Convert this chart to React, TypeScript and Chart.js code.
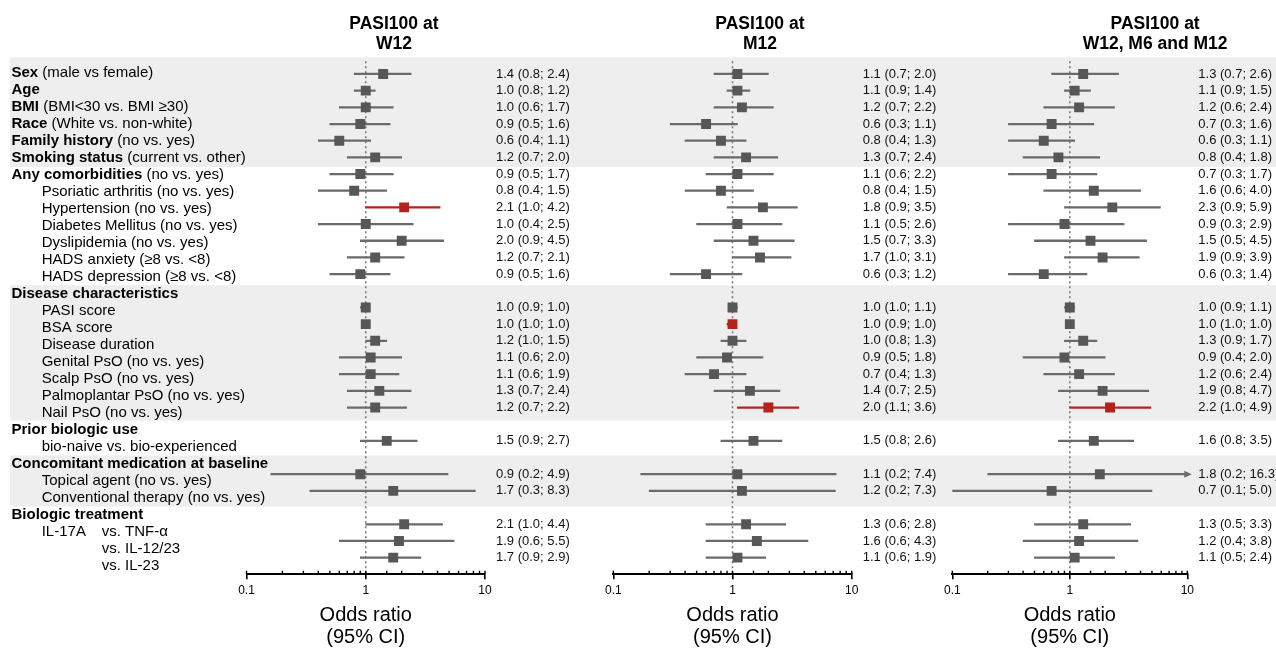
import React, { useEffect, useRef } from 'react';
import { Chart, registerables } from 'chart.js';

Chart.register(...registerables);

// ---------------- data ----------------
const rowHeads = [
  'Sex', 'Age', 'BMI', 'Race', 'Family history', 'Smoking status', 'Any comorbidities',
  '', '', '', '', '', '',
  'Disease characteristics', '', '', '', '', '', '', '',
  'Prior biologic use', '',
  'Concomitant medication at baseline', '', '',
  'Biologic treatment', '', '', '',
];
const rowTexts = [
  ' (male vs female)', '', ' (BMI<30 vs. BMI \u226530)', ' (White vs. non-white)', ' (no vs. yes)', ' (current vs. other)', ' (no vs. yes)',
  'Psoriatic arthritis (no vs. yes)', 'Hypertension (no vs. yes)', 'Diabetes Mellitus (no vs. yes)', 'Dyslipidemia (no vs. yes)',
  'HADS anxiety (\u22658 vs. <8)', 'HADS depression (\u22658 vs. <8)',
  '', 'PASI score', 'BSA score', 'Disease duration', 'Genital PsO (no vs. yes)', 'Scalp PsO (no vs. yes)',
  'Palmoplantar PsO (no vs. yes)', 'Nail PsO (no vs. yes)',
  '', 'bio-naive vs. bio-experienced',
  '', 'Topical agent (no vs. yes)', 'Conventional therapy (no vs. yes)',
  '', 'IL-17A\tvs. TNF-\u03b1', '\tvs. IL-12/23', '\tvs. IL-23',
];

const w12Est = [1.4, 1.0, 1.0, 0.9, 0.6, 1.2, 0.9, 0.8, 2.1, 1.0, 2.0, 1.2, 0.9, null, 1.0, 1.0, 1.2, 1.1, 1.1, 1.3, 1.2, null, 1.5, null, 0.9, 1.7, null, 2.1, 1.9, 1.7];
const w12Lo = [0.8, 0.8, 0.6, 0.5, 0.4, 0.7, 0.5, 0.4, 1.0, 0.4, 0.9, 0.7, 0.5, null, 0.9, 1.0, 1.0, 0.6, 0.6, 0.7, 0.7, null, 0.9, null, 0.16, 0.34, null, 1.0, 0.6, 0.9];
const w12Hi = [2.4, 1.2, 1.7, 1.6, 1.1, 2.0, 1.7, 1.5, 4.2, 2.5, 4.5, 2.1, 1.6, null, 1.0, 1.0, 1.5, 2.0, 1.9, 2.4, 2.2, null, 2.7, null, 4.9, 8.3, null, 4.4, 5.5, 2.9];
const w12Red = [8];

const m12Est = [1.1, 1.1, 1.2, 0.6, 0.8, 1.3, 1.1, 0.8, 1.8, 1.1, 1.5, 1.7, 0.6, null, 1.0, 1.0, 1.0, 0.9, 0.7, 1.4, 2.0, null, 1.5, null, 1.1, 1.2, null, 1.3, 1.6, 1.1];
const m12Lo = [0.7, 0.9, 0.7, 0.3, 0.4, 0.7, 0.6, 0.4, 0.9, 0.5, 0.7, 1.0, 0.3, null, 1.0, 0.9, 0.8, 0.5, 0.4, 0.7, 1.1, null, 0.8, null, 0.17, 0.2, null, 0.6, 0.6, 0.6];
const m12Hi = [2.0, 1.4, 2.2, 1.1, 1.3, 2.4, 2.2, 1.5, 3.5, 2.6, 3.3, 3.1, 1.2, null, 1.1, 1.0, 1.3, 1.8, 1.3, 2.5, 3.6, null, 2.6, null, 7.4, 7.3, null, 2.8, 4.3, 1.9];
const m12Red = [15, 20];

const allEst = [1.3, 1.1, 1.2, 0.7, 0.6, 0.8, 0.7, 1.6, 2.3, 0.9, 1.5, 1.9, 0.6, null, 1.0, 1.0, 1.3, 0.9, 1.2, 1.9, 2.2, null, 1.6, null, 1.8, 0.7, null, 1.3, 1.2, 1.1];
const allLo = [0.7, 0.9, 0.6, 0.3, 0.3, 0.4, 0.3, 0.6, 0.9, 0.3, 0.5, 0.9, 0.3, null, 0.9, 1.0, 0.9, 0.4, 0.6, 0.8, 1.0, null, 0.8, null, 0.2, 0.1, null, 0.5, 0.4, 0.5];
const allHi = [2.6, 1.5, 2.4, 1.6, 1.1, 1.8, 1.7, 4.0, 5.9, 2.9, 4.5, 3.9, 1.4, null, 1.1, 1.0, 1.7, 2.0, 2.4, 4.7, 4.9, null, 3.5, null, 16.3, 5.0, null, 3.3, 3.8, 2.4];
const allRed = [20];

const tickLabels = ['0.1', '1', '10'];
const axisTitle = ['Odds ratio', '(95% CI)'];
const axisMin = 0.1;
const axisMax = 10;

// ---------------- styling ----------------
const FONT = "'Liberation Sans', Arial, Helvetica, sans-serif";
const BAND = '#eeeeee';
const MARK = '#575757';
const CI = '#6a6a6a';
const RED = '#b3231c';
// grey bands, expressed in label-row units
const bandRows: [number, number][] = [[-1.2, 5.55], [12.5, 20.45], [22.5, 25.5]];
const labelValue = (j: number) => -0.089 + 1.0206 * j;

type Arr = (number | null)[];
interface PanelDef {
  title: string[];
  est: Arr; lo: Arr; hi: Arr; red: number[];
  left: number; width: number; padLeft: number; padRight: number;
  titleFrac: number; withLabels: boolean; bandStart: number;
}

const panels: PanelDef[] = [
  { title: ['PASI100 at', 'W12'], est: w12Est, lo: w12Lo, hi: w12Hi, red: w12Red, left: 0, width: 600, padLeft: 246.5, padRight: 115, titleFrac: 0.618, withLabels: true, bandStart: 10 },
  { title: ['PASI100 at', 'M12'], est: m12Est, lo: m12Lo, hi: m12Hi, red: m12Red, left: 600, width: 340, padLeft: 13.3, padRight: 88.3, titleFrac: 0.615, withLabels: false, bandStart: 0 },
  { title: ['PASI100 at', 'W12, M6 and M12'], est: allEst, lo: allLo, hi: allHi, red: allRed, left: 940, width: 336, padLeft: 9.3, padRight: 88.7, titleFrac: 0.863, withLabels: false, bandStart: 0 },
];

function isMajor(v: number) {
  const l = Math.log10(v);
  return Math.abs(l - Math.round(l)) < 1e-6;
}
const fmt = (n: number) => n.toFixed(1);

function makePlugin(p: PanelDef) {
  return {
    id: 'forestDecor',
    beforeDraw(chart: any) {
      const { ctx, chartArea, scales } = chart;
      const y = scales.y;
      ctx.save();
      ctx.fillStyle = BAND;
      for (const [a, b] of bandRows) {
        const ya = Math.max(chartArea.top, y.getPixelForValue(labelValue(a)));
        const yb = y.getPixelForValue(labelValue(b));
        ctx.fillRect(p.bandStart, ya, chart.width - p.bandStart, yb - ya);
      }
      ctx.restore();
    },
    beforeDatasetsDraw(chart: any) {
      const { ctx, chartArea, scales } = chart;
      const x1 = scales.x.getPixelForValue(1);
      ctx.save();
      ctx.strokeStyle = '#7a7a7a';
      ctx.lineWidth = 1.6;
      ctx.setLineDash([2, 3]);
      ctx.beginPath();
      ctx.moveTo(x1, chartArea.top + 4);
      ctx.lineTo(x1, chartArea.bottom);
      ctx.stroke();
      ctx.restore();
    },
    afterDatasetsDraw(chart: any) {
      const { ctx, scales } = chart;
      const x = scales.x, y = scales.y;
      ctx.save();
      p.hi.forEach((h, i) => {
        if (h == null || h <= x.max) return;
        const yy = y.getPixelForValue(i);
        const xe = x.getPixelForValue(x.max);
        ctx.fillStyle = p.red.includes(i) ? RED : CI;
        ctx.beginPath();
        ctx.moveTo(xe - 3, yy - 3.5);
        ctx.lineTo(xe + 4.5, yy);
        ctx.lineTo(xe - 3, yy + 3.5);
        ctx.closePath();
        ctx.fill();
      });
      ctx.restore();
    },
    afterDraw(chart: any) {
      const { ctx, chartArea, scales } = chart;
      const x = scales.x, y = scales.y;
      ctx.save();
      // small upward tick marks
      ctx.strokeStyle = '#000';
      ctx.lineWidth = 1.4;
      ctx.beginPath();
      x.ticks.forEach((t: any) => {
        const px = x.getPixelForValue(t.value);
        ctx.moveTo(px, chartArea.bottom - 3.5);
        ctx.lineTo(px, chartArea.bottom);
      });
      ctx.stroke();

      // estimate (CI) texts
      ctx.fillStyle = '#111';
      ctx.textAlign = 'left';
      ctx.textBaseline = 'middle';
      ctx.font = `13px ${FONT}`;
      p.est.forEach((e, i) => {
        if (e == null) return;
        const s = `${fmt(e)} (${fmt(p.lo[i] as number)}; ${fmt(p.hi[i] as number)})`;
        ctx.fillText(s, chartArea.right + 11, y.getPixelForValue(i));
      });

      // panel title
      ctx.fillStyle = '#000';
      ctx.textAlign = 'center';
      ctx.textBaseline = 'alphabetic';
      ctx.font = `bold 17.5px ${FONT}`;
      const cx = chartArea.left + p.titleFrac * (chartArea.right - chartArea.left);
      p.title.forEach((line, k) => ctx.fillText(line, cx, 29 + k * 20));

      // row labels
      if (p.withLabels) {
        ctx.textAlign = 'left';
        ctx.textBaseline = 'middle';
        rowHeads.forEach((head, j) => {
          const yy = y.getPixelForValue(labelValue(j));
          const text = rowTexts[j];
          if (head) {
            ctx.font = `bold 15px ${FONT}`;
            ctx.fillText(head, 11.5, yy);
            const w = ctx.measureText(head).width;
            ctx.font = `15px ${FONT}`;
            if (text) ctx.fillText(text, 11.5 + w, yy);
          } else if (text) {
            const parts = text.split('\t');
            ctx.font = `15px ${FONT}`;
            if (parts[0]) ctx.fillText(parts[0], 41.7, yy);
            if (parts.length > 1) ctx.fillText(parts[1], 101.7, yy);
          }
        });
      }
      ctx.restore();
    },
  };
}

function PanelChart({ p }: { p: PanelDef }) {
  const ref = useRef<HTMLCanvasElement | null>(null);
  useEffect(() => {
    if (!ref.current) return;
    const rows = p.est.map((_, i) => i).filter((i) => p.est[i] != null);
    const markerData = rows.map((i) => ({ x: p.est[i] as number, y: i }));
    const ciData = rows.map((i) => ({ y: i, x: [p.lo[i] as number, p.hi[i] as number] }));
    const chart = new Chart(ref.current, {
      type: 'scatter',
      data: {
        datasets: [
          {
            type: 'scatter',
            label: 'Odds ratio',
            data: markerData,
            pointStyle: 'rect',
            pointRadius: 7,
            pointHoverRadius: 7,
            pointBackgroundColor: markerData.map((d) => (p.red.includes(d.y) ? RED : MARK)),
            pointBorderWidth: 0,
            order: 0,
          } as any,
          {
            type: 'bar',
            label: '95% CI',
            indexAxis: 'y',
            data: ciData,
            barThickness: 1.6,
            backgroundColor: ciData.map((d) => (p.red.includes(d.y) ? RED : CI)),
            borderWidth: 0,
            clip: 0,
            order: 1,
          } as any,
        ],
      },
      options: {
        animation: false,
        responsive: false,
        events: [],
        layout: { padding: { top: 57.3, bottom: 0, left: p.padLeft, right: p.padRight } },
        plugins: { legend: { display: false }, tooltip: { enabled: false }, title: { display: false } },
        scales: {
          x: {
            type: 'logarithmic',
            min: axisMin,
            max: axisMax,
            position: 'bottom',
            afterFit: (s: any) => { s.height = 73.7; },
            border: { display: true, color: '#000', width: 2 },
            grid: {
              drawOnChartArea: false,
              drawTicks: true,
              tickLength: 5,
              lineWidth: 1.6,
              color: (c: any) => (c.tick && isMajor(c.tick.value) ? '#000' : 'rgba(0,0,0,0)'),
            },
            ticks: {
              autoSkip: false,
              maxRotation: 0,
              padding: 4,
              color: '#000',
              font: { family: FONT, size: 12 },
              callback: (v: any) => {
                const s = String(+Number(v).toPrecision(3));
                return tickLabels.includes(s) ? s : '';
              },
            },
            title: {
              display: true,
              text: axisTitle,
              color: '#000',
              font: { family: FONT, size: 20, lineHeight: 1.08 },
              padding: { top: 0, bottom: 0 },
            },
          },
          y: { type: 'linear', min: -1, max: 30, reverse: true, display: false, offset: false },
        },
      } as any,
      plugins: [makePlugin(p)],
    });
    return () => chart.destroy();
  }, [p]);
  return (
    <canvas
      ref={ref}
      width={p.width}
      height={648}
      style={{ position: 'absolute', left: p.left, top: 0, width: p.width, height: 648 }}
    />
  );
}

export default function App() {
  return (
    <div style={{ position: 'absolute', left: 0, top: 0, width: 1276, height: 648, background: '#fff', overflow: 'hidden' }}>
      {panels.map((p, k) => (
        <PanelChart key={k} p={p} />
      ))}
    </div>
  );
}
